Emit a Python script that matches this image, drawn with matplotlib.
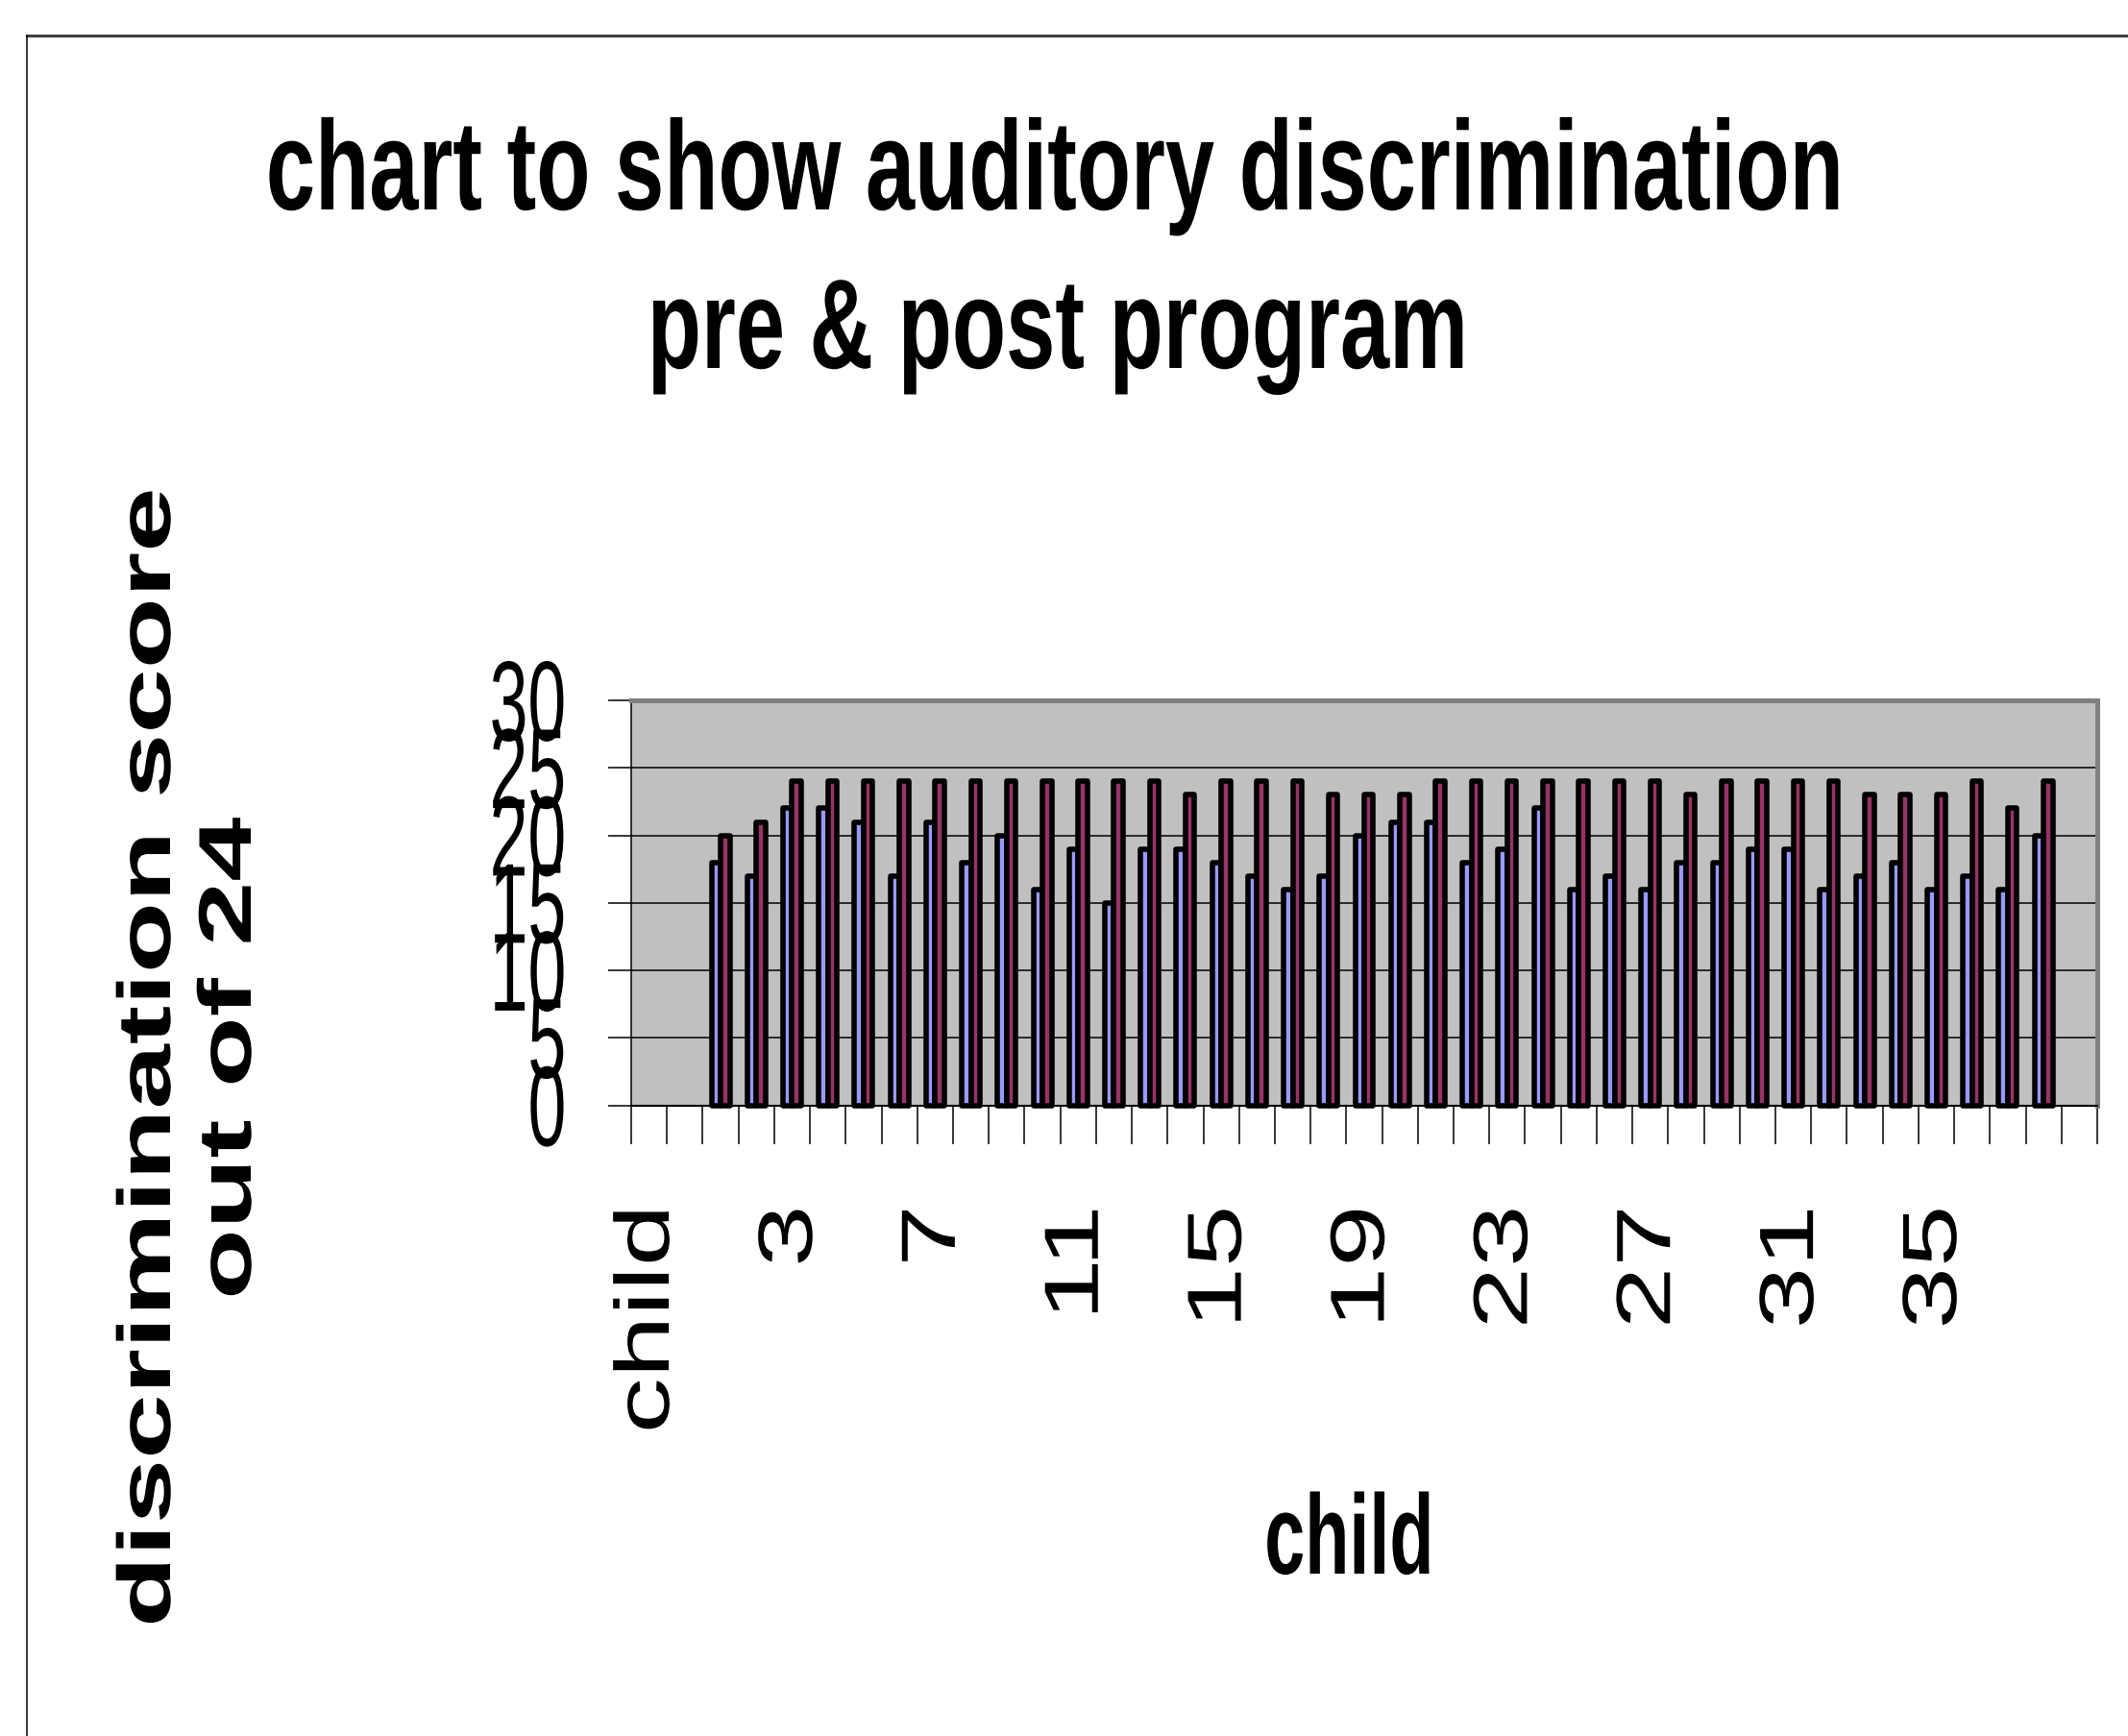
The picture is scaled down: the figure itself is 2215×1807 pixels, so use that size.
# -*- coding: utf-8 -*-
#
#  plot.py - auditory discrimination pre & post program (excel style bar chart)

import numpy as np
import matplotlib
matplotlib.use("Agg")
import matplotlib.pyplot as plt
from matplotlib.patheffects import AbstractPathEffect
from matplotlib.transforms import Affine2D, blended_transform_factory
from matplotlib.lines import Line2D
from matplotlib.path import Path

#_____DATA_____________
categories = ["child", ""] + [str(i) for i in range(1, 39)] + [""]
pre_scores = [18, 17, 22, 22, 21, 17, 21, 18, 20,
              16, 19, 15, 19, 19, 18, 17, 16, 17, 20, 21, 21, 18, 19, 22,
              16, 17, 16, 18, 18, 19, 19, 16, 17, 18, 16, 17, 16, 20]
post_scores = [20, 21, 24, 24, 24, 24, 24, 24, 24,
               24, 24, 24, 24, 23, 24, 24, 24, 23, 23, 23, 24, 24, 24, 24,
               24, 24, 24, 23, 24, 24, 24, 24, 23, 23, 23, 24, 22, 24]
yticks = [0, 5, 10, 15, 20, 25, 30]

title_lines = ["chart to show auditory discrimination", "pre & post program"]
xlabel = "child"
ylabel_lines = ["discrimination score", "out of 24"]

W, H = 2215, 1808


def fx(px):
    return px / W


def fy(py):
    return 1 - py / H


class Squeeze(AbstractPathEffect):
    # rescale glyphs in the text's own frame (the original picture is distorted)
    def __init__(self, sx, sy=1.0, anchor="center", vanchor="baseline"):
        super().__init__()
        self.sx = sx
        self.sy = sy
        self.anchor = anchor
        self.vanchor = vanchor

    def draw_path(self, renderer, gc, tpath, affine, rgbFace=None):
        v = tpath.vertices
        if tpath.codes is not None:
            v = v[tpath.codes != Path.CLOSEPOLY]
        if len(v):
            x0, x1 = v[:, 0].min(), v[:, 0].max()
            y0, y1 = v[:, 1].min(), v[:, 1].max()
        else:
            x0 = x1 = y0 = y1 = 0.0
        cx = {"left": x0, "center": (x0 + x1) / 2, "right": x1}[self.anchor]
        cy = 0.0 if self.vanchor == "baseline" else (y0 + y1) / 2
        t = (Affine2D().translate(-cx, -cy).scale(self.sx, self.sy)
             .translate(cx, cy) + affine)
        renderer.draw_path(gc, tpath, t, rgbFace)


def main():
    fig = plt.figure(figsize=(W / 100, H / 100), dpi=100)

    # outer chart frame (runs off the picture right and bottom)
    fig.add_artist(Line2D([fx(28), 1.0], [fy(38), fy(38)], transform=fig.transFigure,
                          color="#404040", lw=2.2))
    fig.add_artist(Line2D([fx(28), fx(28)], [fy(38), 0.0], transform=fig.transFigure,
                          color="black", lw=1.1))

    ax = fig.add_axes([fx(657), fy(1151.7), (2183 - 657) / W, (1151.7 - 730) / H])
    ax.set_facecolor("#C0C0C0")

    n = len(categories)
    xc = np.arange(n)[2:2 + len(pre_scores)] + 0.5
    bw = 0.255
    ax.bar(xc - bw / 2, pre_scores, bw, color="#9999FF", edgecolor="black",
           linewidth=4.0, joinstyle="round", zorder=3, clip_on=False)
    ax.bar(xc + bw / 2, post_scores, bw, color="#993366", edgecolor="black",
           linewidth=4.0, joinstyle="round", zorder=3, clip_on=False)

    for yv in yticks[1:-1]:
        ax.axhline(yv, color="black", lw=1.1, zorder=1)

    ax.set_xlim(0, n)
    ax.set_ylim(0, 30)
    ax.set_xticks(np.arange(0, n + 1))
    ax.set_xticklabels([])
    ax.set_yticks(yticks)
    ax.set_yticklabels([str(v) for v in yticks], fontfamily="Liberation Sans")
    ax.tick_params(axis="x", length=29, width=1.1, direction="out", color="black")
    ax.tick_params(axis="y", length=17, width=1.1, direction="out", color="black",
                   pad=32, labelsize=44)
    for lab in ax.get_yticklabels():
        lab.set_path_effects([Squeeze(1.17, 1.94, "right", "center")])

    ax.spines["top"].set_color("#808080")
    ax.spines["top"].set_linewidth(3.6)
    ax.spines["right"].set_color("#808080")
    ax.spines["right"].set_linewidth(3.6)
    ax.spines["left"].set_linewidth(1.1)
    ax.spines["bottom"].set_linewidth(1.5)

    # category labels, every 4th one, rotated
    trans = blended_transform_factory(ax.transData, ax.transAxes)
    for i in range(0, n, 4):
        ax.text(i + 0.5, -0.2497, categories[i], transform=trans, rotation=90,
                rotation_mode="anchor", ha="right", va="center", fontsize=57.6,
                family="Liberation Sans", path_effects=[Squeeze(1.45, 1.0, "right")])

    # titles
    fig.text(fx(1098), fy(219), title_lines[0], ha="center", va="baseline",
             fontsize=70, fontweight="bold", family="Liberation Sans",
             path_effects=[Squeeze(0.947, 1.364)])
    fig.text(fx(1101), fy(384), title_lines[1], ha="center", va="baseline",
             fontsize=70, fontweight="bold", family="Liberation Sans",
             path_effects=[Squeeze(0.947, 1.364)])
    fig.text(fx(1405), fy(1639), xlabel, ha="center", va="baseline",
             fontsize=85, fontweight="bold", family="Liberation Sans",
             path_effects=[Squeeze(0.64)])
    fig.text(fx(177), fy(1102), ylabel_lines[0], rotation=90, rotation_mode="anchor",
             ha="center", va="baseline", fontsize=56, fontweight="bold",
             family="Liberation Sans", path_effects=[Squeeze(1.56)])
    fig.text(fx(261), fy(1102), ylabel_lines[1], rotation=90, rotation_mode="anchor",
             ha="center", va="baseline", fontsize=56, fontweight="bold",
             family="Liberation Sans", path_effects=[Squeeze(1.55)])

    fig.savefig("out.png", dpi=100)
    return 0


if __name__ == "__main__":
    import sys
    sys.exit(main())
